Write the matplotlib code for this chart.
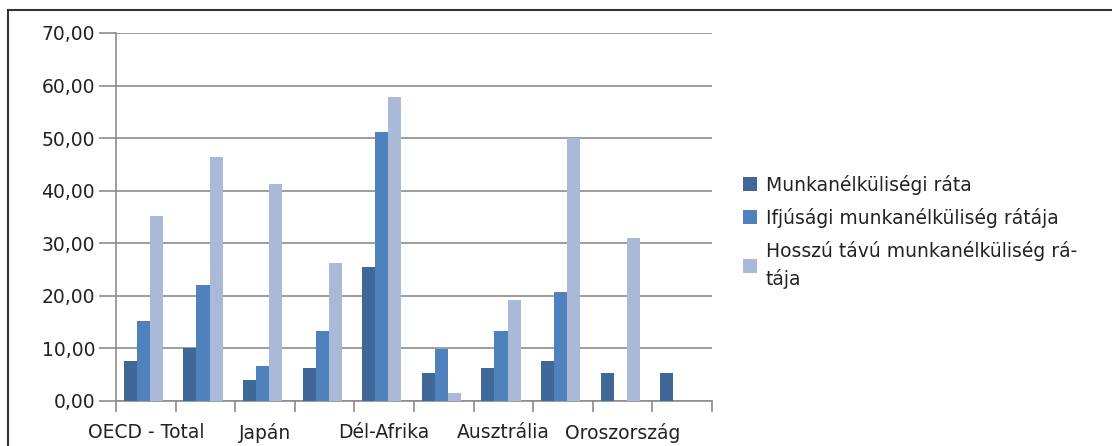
import numpy as np
import matplotlib
matplotlib.use("Agg")
import matplotlib.pyplot as plt
from matplotlib.lines import Line2D
from matplotlib.ticker import FuncFormatter

# ------------------------------------------------------------
# DATA
# ------------------------------------------------------------
categories = ["OECD - Total", "", "Japán", "", "Dél-Afrika", "",
              "Ausztrália", "", "Oroszország", ""]
series_names = ["Munkanélküliségi ráta",
                "Ifjúsági munkanélküliség rátája",
                "Hosszú távú munkanélküliség rá-\ntája"]
unemployment = [7.7, 10.0, 3.9, 6.2, 25.5, 5.3, 6.3, 7.7, 5.3, 5.3]
youth_unemployment = [15.2, 22.1, 6.6, 13.4, 51.2, 9.8, 13.4, 20.7, np.nan, np.nan]
longterm_unemployment = [35.1, 46.4, 41.3, 26.2, 57.8, 1.5, 19.3, 50.0, 31.0, np.nan]

colors = ["#3F6797", "#4F81BD", "#AAB9D7"]
text_color = "#222222"
grid_color = "#8C8C8C"
fs = 13.5

plt.rcParams["font.family"] = ["DejaVu Sans"]

fig = plt.figure(figsize=(11.12, 4.46), dpi=100)
ax = fig.add_axes([116 / 1112, 1 - 401 / 446, 596 / 1112, 368 / 446])

x = np.arange(len(categories))
bw = 0.22
for i, vals in enumerate([unemployment, youth_unemployment, longterm_unemployment]):
    ax.bar(x + (i - 1) * bw - 0.04, vals, width=bw, color=colors[i],
           linewidth=0, zorder=3)

ax.set_xlim(-0.5, len(categories) - 0.5)
ax.set_ylim(0, 70)
ax.set_yticks(np.arange(0, 71, 10))
ax.yaxis.set_major_formatter(FuncFormatter(lambda v, p: f"{v:.2f}".replace(".", ",")))
ax.grid(axis="y", color=grid_color, linewidth=1.2, zorder=0)

# category ticks sit between groups, labels at group centres
ax.set_xticks(np.arange(-0.5, len(categories), 1.0))
ax.set_xticklabels([])
ax.set_xticks(x, minor=True)
ax.set_xticklabels(categories, minor=True)
ax.tick_params(axis="x", which="major", length=8, width=1.2, color=grid_color, direction="out")
ax.tick_params(axis="x", which="minor", length=0, pad=16, labelsize=fs, labelcolor=text_color)
ax.tick_params(axis="y", length=12, width=1.2, color=grid_color, pad=3,
               labelsize=fs, labelcolor=text_color)

for side in ["top", "right"]:
    ax.spines[side].set_visible(False)
for side in ["left", "bottom"]:
    ax.spines[side].set_color(grid_color)
    ax.spines[side].set_linewidth(1.2)

# legend
handles = [Line2D([], [], marker="s", linestyle="none", markersize=10,
                  markerfacecolor=c, markeredgewidth=0) for c in colors]
leg = fig.legend(handles, series_names, loc="upper left",
                 bbox_to_anchor=(735 / 1112, 1 - 167 / 446), frameon=False,
                 fontsize=fs, labelcolor=text_color, handlelength=0.8,
                 handletextpad=0.45, labelspacing=0.7, borderaxespad=0)
for t in leg.get_texts():
    t.set_linespacing(1.5)

# outer chart border (only top and left are in view)
fig.add_artist(Line2D([8 / 1112, 8 / 1112], [0, 1 - 10 / 446],
                      transform=fig.transFigure, color="#333333", linewidth=1.5))
fig.add_artist(Line2D([8 / 1112, 1], [1 - 10 / 446, 1 - 10 / 446],
                      transform=fig.transFigure, color="#333333", linewidth=1.5))

fig.savefig("out.png", dpi=100)
